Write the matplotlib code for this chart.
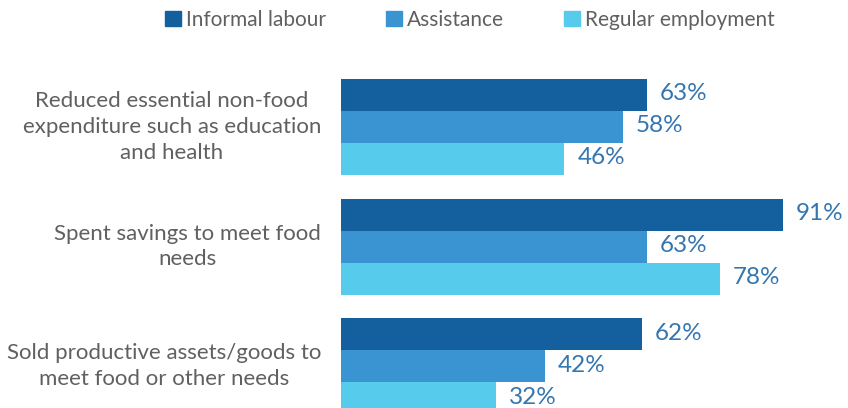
import numpy as np
import matplotlib.pyplot as plt
from matplotlib.patches import Patch

# data
categories = ['Reduced essential non-food\nexpenditure such as education\nand health',
              'Spent savings to meet food\nneeds',
              'Sold productive assets/goods to\nmeet food or other needs']
series = ['Informal labour', 'Assistance', 'Regular employment']
informal = [63, 91, 62]
assistance = [58, 63, 42]
regular = [46, 78, 32]

colors = ['#14609e', '#3a94d2', '#56cbeb']
text_grey = '#606060'
value_col = '#3576b0'

plt.rcParams['font.family'] = ['Lato', 'DejaVu Sans']

W, H = 848, 408
fig = plt.figure(figsize=(W / 100, H / 100), dpi=100)
# axes placed in pixel terms: left edge of bars at x=341, top 60, bottom at figure edge
left, right, top, bottom = 341, 848, 60, 408
ax = fig.add_axes([left / W, (H - bottom) / H, (right - left) / W, (bottom - top) / H])

bar_h = 1.0          # one bar = 32 px
px = 32.0
group_step = 119.5 / px
centers = np.arange(len(categories)) * group_step

for j, vals in enumerate([informal, assistance, regular]):
    y = centers + (j - 1) * bar_h
    bars = ax.barh(y, vals, height=bar_h, color=colors[j], label=series[j])
    for b, v in zip(bars, vals):
        ax.annotate(f'{v}%', (b.get_width(), b.get_y() + bar_h / 2),
                    xytext=(13, 1), textcoords='offset pixels',
                    ha='left', va='center', fontsize=17.5,
                    color=value_col)

# scale: 91% spans 442 px
ax.set_xlim(0, (right - left) / (442 / 91))
ax.set_ylim(centers[0] + (bottom - 127) / px, centers[0] - (127 - top) / px)
ax.axis('off')

for c, lab in zip(centers, categories):
    ax.annotate(lab, (0, c), xytext=(-20, 0), textcoords='offset pixels',
                ha='right', va='center', multialignment='center',
                fontsize=16, color=text_grey, linespacing=1.35)

handles = [Patch(color=c) for c in colors]
fig.legend(handles, series, loc='center', bbox_to_anchor=(470 / W, 1 - 20 / H),
           ncol=3, frameon=False, handlelength=0.75, handleheight=0.75,
           handletextpad=0.25, columnspacing=2.9, labelcolor=text_grey,
           prop={'size': 15})

fig.savefig('out.png', dpi=100)
